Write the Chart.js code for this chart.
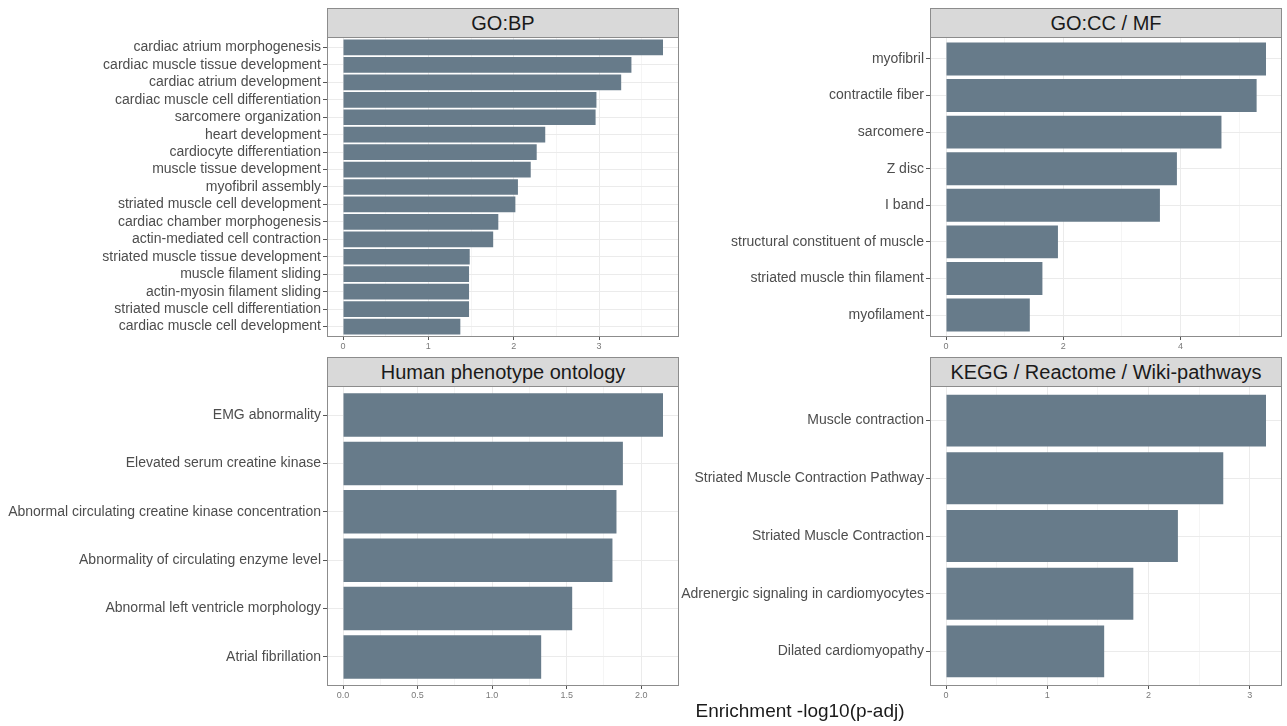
<!DOCTYPE html>
<html>
<head>
<meta charset="utf-8">
<script src="https://cdn.jsdelivr.net/npm/chart.js@4.4.1/dist/chart.umd.min.js"></script>
<style>
    body { margin: 0; background: #fff; width: 1287px; height: 726px; position: relative; overflow: hidden; font-family: "Liberation Sans", Arial, sans-serif; }
    canvas, .strip, #xtitle { position: absolute; }
    .strip { background: #d9d9d9; border: 1px solid #8c8c8c; box-sizing: border-box; width: 352px; height: 30px; text-align: center; color: #1a1a1a; font-size: 20px; line-height: 28px; }
    #xtitle { left: 600px; width: 400px; top: 701px; text-align: center; font-size: 19px; line-height: 20px; color: #1a1a1a; }
</style>
</head>
<body>
<div class="strip" style="left:327px;top:8px">GO:BP</div>
<div class="strip" style="left:930px;top:8px">GO:CC / MF</div>
<div class="strip" style="left:327px;top:357px">Human phenotype ontology</div>
<div class="strip" style="left:930px;top:357px">KEGG / Reactome / Wiki-pathways</div>
<canvas id="bp" width="680" height="320" style="left:0;top:37px"></canvas>
<canvas id="ccmf" width="611" height="320" style="left:676px;top:37px"></canvas>
<canvas id="hpo" width="680" height="320" style="left:0;top:386px"></canvas>
<canvas id="kegg" width="611" height="320" style="left:676px;top:386px"></canvas>
<div id="xtitle">Enrichment -log10(p-adj)</div>

<script>
// data, top bar first
const bpTerms = ["cardiac atrium morphogenesis", "cardiac muscle tissue development", "cardiac atrium development",
    "cardiac muscle cell differentiation", "sarcomere organization", "heart development", "cardiocyte differentiation",
    "muscle tissue development", "myofibril assembly", "striated muscle cell development", "cardiac chamber morphogenesis",
    "actin-mediated cell contraction", "striated muscle tissue development", "muscle filament sliding",
    "actin-myosin filament sliding", "striated muscle cell differentiation", "cardiac muscle cell development"];
const bpValues = [3.75, 3.38, 3.26, 2.97, 2.96, 2.37, 2.27, 2.20, 2.05, 2.02, 1.82, 1.76, 1.485, 1.477, 1.477, 1.477, 1.375];

const ccTerms = ["myofibril", "contractile fiber", "sarcomere", "Z disc", "I band", "structural constituent of muscle",
    "striated muscle thin filament", "myofilament"];
const ccValues = [5.46, 5.30, 4.70, 3.94, 3.65, 1.91, 1.645, 1.43];

const hpoTerms = ["EMG abnormality", "Elevated serum creatine kinase", "Abnormal circulating creatine kinase concentration",
    "Abnormality of circulating enzyme level", "Abnormal left ventricle morphology", "Atrial fibrillation"];
const hpoValues = [2.146, 1.877, 1.834, 1.807, 1.537, 1.329];

const keggTerms = ["Muscle contraction", "Striated Muscle Contraction Pathway", "Striated Muscle Contraction",
    "Adrenergic signaling in cardiomyocytes", "Dilated cardiomyopathy"];
const keggValues = [3.16, 2.738, 2.29, 1.85, 1.562];

// x breaks (major step) per panel
const bpStep = 1, ccStep = 2, hpoStep = 0.5, keggStep = 1;

const barColor = "#677b8a";
const fontFamily = "'Liberation Sans', Arial, sans-serif";

// panel border drawn over the bars, like theme_bw
const panelBorder = {
    id: "panelBorder",
    afterDraw(chart) {
        const { ctx, chartArea: a } = chart;
        ctx.save();
        ctx.strokeStyle = "#8c8c8c";
        ctx.lineWidth = 1;
        ctx.strokeRect(a.left + 0.5, a.top + 0.5, a.right - a.left - 1, a.bottom - a.top - 1);
        ctx.restore();
    }
};

function makePanel(id, terms, values, step, labelWidth, padRight, decimals) {
    const n = terms.length;
    const xMax = Math.max(...values) * 1.05;
    const xMin = -Math.max(...values) * 0.05;
    const isMajor = v => Math.abs(v / step - Math.round(v / step)) < 1e-6;

    new Chart(document.getElementById(id), {
        type: "bar",
        data: {
            datasets: [{
                data: values.map((v, i) => ({ x: v, y: i })),
                backgroundColor: barColor,
                borderWidth: 0,
                categoryPercentage: 1,
                barPercentage: 0.9,
            }],
        },
        options: {
            indexAxis: "y",
            responsive: false,
            animation: false,
            layout: { padding: { left: 0, right: padRight, top: 0, bottom: 0 } },
            plugins: { legend: { display: false }, tooltip: { enabled: false } },
            scales: {
                x: {
                    type: "linear",
                    min: xMin,
                    max: xMax,
                    border: { display: false },
                    grid: {
                        color: "#ebebeb",
                        lineWidth: ctx => isMajor(ctx.tick.value) ? 1 : 0.5,
                        tickLength: 3,
                        tickColor: ctx => isMajor(ctx.tick.value) ? "#555" : "rgba(0,0,0,0)",
                    },
                    ticks: {
                        stepSize: step / 2,
                        includeBounds: false,
                        autoSkip: false,
                        maxRotation: 0,
                        padding: 1,
                        color: "#7a7a7a",
                        font: { family: fontFamily, size: 9 },
                        callback: v => isMajor(v) ? v.toFixed(decimals) : "",
                    },
                    afterFit: scale => {
                        scale.height = 20;
                        scale.paddingLeft = 0;
                        scale.paddingRight = 0;
                    },
                },
                y: {
                    type: "linear",
                    reverse: true,
                    offset: false,
                    min: -0.6,
                    max: n - 1 + 0.6,
                    border: { display: false },
                    grid: { offset: false, color: "#ebebeb", lineWidth: 1, tickLength: 4, tickColor: "#555" },
                    ticks: {
                        stepSize: 1,
                        includeBounds: false,
                        autoSkip: false,
                        padding: 2,
                        color: "#4d4d4d",
                        font: { family: fontFamily, size: 14 },
                        callback: v => terms[v],
                    },
                    afterFit: scale => {
                        scale.width = labelWidth;
                        scale.paddingTop = 0;
                        scale.paddingBottom = 0;
                    },
                },
            },
        },
        plugins: [panelBorder],
    });
}

makePanel("bp", bpTerms, bpValues, bpStep, 327, 1, 0);
makePanel("ccmf", ccTerms, ccValues, ccStep, 254, 5, 0);
makePanel("hpo", hpoTerms, hpoValues, hpoStep, 327, 1, 1);
makePanel("kegg", keggTerms, keggValues, keggStep, 254, 5, 0);
</script>
</body>
</html>
